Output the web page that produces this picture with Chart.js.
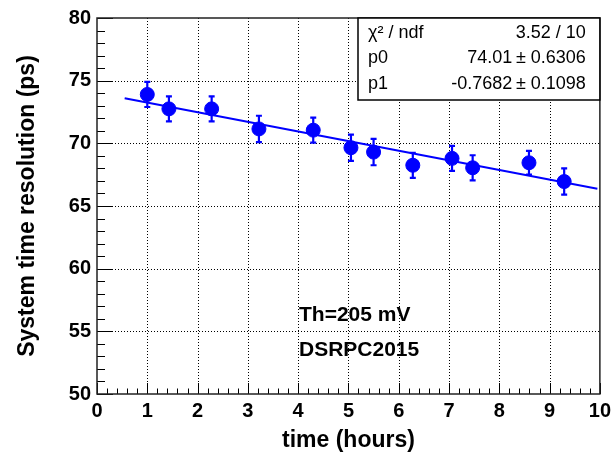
<!DOCTYPE html>
<html>
<head>
<meta charset="utf-8">
<script src="https://cdn.jsdelivr.net/npm/chart.js@4"></script>
<style>
  body { margin: 0; background: #fff; }
  canvas { display: block; }
</style>
</head>
<body>
<canvas id="resChart" width="616" height="452"></canvas>
<script>
const timeHours = [1.0, 1.43, 2.28, 3.22, 4.30, 5.05, 5.50, 6.28, 7.06, 7.47, 8.59, 9.29];
const resolutionPs = [73.9, 72.75, 72.75, 71.15, 71.05, 69.65, 69.3, 68.25, 68.8, 68.05, 68.45, 66.95];
const resolutionErr = [1.0, 1.0, 1.0, 1.05, 1.0, 1.05, 1.05, 1.0, 1.0, 1.0, 0.95, 1.05];

// fit line end points
const fitX = [0.55, 9.95];
const fitY = [73.59, 66.37];

// stats box
const statLabels = ["\u03C7\u00B2 / ndf", "p0", "p1"];
const statValues = ["3.52 / 10", "74.01\u2009\u00B1 0.6306", "-0.7682\u2009\u00B1 0.1098"];

const noteLines = ["Th=205 mV", "DSRPC2015"];

const FONT = "'Liberation Sans', Arial, Helvetica, sans-serif";
const BLUE = "#0000ff";

// dotted grid + error bars under the markers
const underPlugin = {
  id: "under",
  beforeDatasetsDraw(chart) {
    const { ctx, chartArea: a, scales: { x, y } } = chart;
    ctx.save();
    ctx.strokeStyle = "#000";
    ctx.lineWidth = 1;
    ctx.setLineDash([1, 2]);
    for (let v = 1; v < 10; v++) {
      const px = Math.round(x.getPixelForValue(v)) + 0.5;
      ctx.beginPath(); ctx.moveTo(px, a.top); ctx.lineTo(px, a.bottom); ctx.stroke();
    }
    for (let v = 55; v < 80; v += 5) {
      const py = Math.round(y.getPixelForValue(v)) + 0.5;
      ctx.beginPath(); ctx.moveTo(a.left, py); ctx.lineTo(a.right, py); ctx.stroke();
    }
    ctx.setLineDash([]);

    // error bars
    ctx.strokeStyle = BLUE;
    ctx.lineWidth = 2.2;
    for (let i = 0; i < timeHours.length; i++) {
      const px = x.getPixelForValue(timeHours[i]);
      const top = y.getPixelForValue(resolutionPs[i] + resolutionErr[i]);
      const bot = y.getPixelForValue(resolutionPs[i] - resolutionErr[i]);
      ctx.beginPath();
      ctx.moveTo(px, top); ctx.lineTo(px, bot);
      ctx.moveTo(px - 3, top); ctx.lineTo(px + 3, top);
      ctx.moveTo(px - 3, bot); ctx.lineTo(px + 3, bot);
      ctx.stroke();
    }
    ctx.restore();
  },
  afterDatasetsDraw(chart) {
    const { ctx, chartArea: a, scales: { x, y } } = chart;
    ctx.save();
    // ticks pointing inward
    ctx.strokeStyle = "#000";
    ctx.lineWidth = 1;
    ctx.beginPath();
    for (let v = 0; v <= 10.001; v += 0.2) {
      const px = Math.round(x.getPixelForValue(v)) + 0.5;
      const major = Math.abs(v - Math.round(v)) < 0.01;
      ctx.moveTo(px, a.bottom); ctx.lineTo(px, a.bottom - (major ? 11 : 5.5));
    }
    for (let v = 50; v <= 80.001; v += 1) {
      const py = Math.round(y.getPixelForValue(v)) + 0.5;
      const major = Math.round(v) % 5 === 0;
      ctx.moveTo(a.left, py); ctx.lineTo(a.left + (major ? 16 : 8), py);
    }
    ctx.stroke();

    // frame
    ctx.lineWidth = 1.5;
    ctx.strokeStyle = "#222";
    ctx.strokeRect(a.left, a.top, a.right - a.left, a.bottom - a.top);

    // stats box
    const bx = 358, by = 18, bw = a.right - 358, bh = 82;
    ctx.fillStyle = "#fff";
    ctx.fillRect(bx, by, bw, bh);
    ctx.lineWidth = 1.5;
    ctx.strokeStyle = "#000";
    ctx.strokeRect(bx, by, bw, bh);
    ctx.fillStyle = "#000";
    ctx.font = "18px " + FONT;
    ctx.textBaseline = "middle";
    for (let i = 0; i < statLabels.length; i++) {
      const ty = by + 15 + i * 25.5;
      ctx.textAlign = "left";
      ctx.fillText(statLabels[i], bx + 10, ty);
      ctx.textAlign = "right";
      ctx.fillText(statValues[i], bx + bw - 14, ty);
    }

    // notes
    ctx.font = "bold 21px " + FONT;
    ctx.textAlign = "left";
    ctx.textBaseline = "alphabetic";
    ctx.fillText(noteLines[0], 299, 321);
    ctx.fillText(noteLines[1], 299, 356);
    ctx.restore();
  }
};

const points = timeHours.map((t, i) => ({ x: t, y: resolutionPs[i] }));
const fitLine = fitX.map((t, i) => ({ x: t, y: fitY[i] }));

new Chart(document.getElementById("resChart").getContext("2d"), {
  type: "scatter",
  data: {
    datasets: [
      {
        type: "line",
        data: fitLine,
        borderColor: BLUE,
        borderWidth: 2,
        pointRadius: 0,
        fill: false,
        order: 2
      },
      {
        data: points,
        backgroundColor: BLUE,
        borderColor: BLUE,
        pointRadius: 7,
        order: 1
      }
    ]
  },
  options: {
    responsive: false,
    animation: false,
    layout: { padding: { left: 0, right: 14, top: 15, bottom: 0 } },
    plugins: { legend: { display: false }, tooltip: { enabled: false } },
    scales: {
      x: {
        type: "linear",
        min: 0,
        max: 10,
        grid: { display: false, drawTicks: false },
        border: { display: false },
        ticks: {
          stepSize: 1,
          padding: 5,
          color: "#000",
          maxRotation: 0,
          font: { family: FONT, size: 20, weight: "bold" }
        },
        title: {
          display: true,
          text: "time (hours)",
          color: "#000",
          padding: { top: 0, bottom: 0 },
          font: { family: FONT, size: 23, weight: "bold", lineHeight: 1 }
        },
        afterFit(s) { s.height = 58; }
      },
      y: {
        type: "linear",
        min: 50,
        max: 80,
        grid: { display: false, drawTicks: false },
        border: { display: false },
        ticks: {
          stepSize: 5,
          padding: 6,
          color: "#000",
          font: { family: FONT, size: 20, weight: "bold" }
        },
        title: {
          display: true,
          text: "System time resolution (ps)",
          color: "#000",
          padding: { top: 16, bottom: 0 },
          font: { family: FONT, size: 23, weight: "bold", lineHeight: 1 }
        },
        afterFit(s) { s.width = 97; }
      }
    }
  },
  plugins: [underPlugin]
});
</script>
</body>
</html>
